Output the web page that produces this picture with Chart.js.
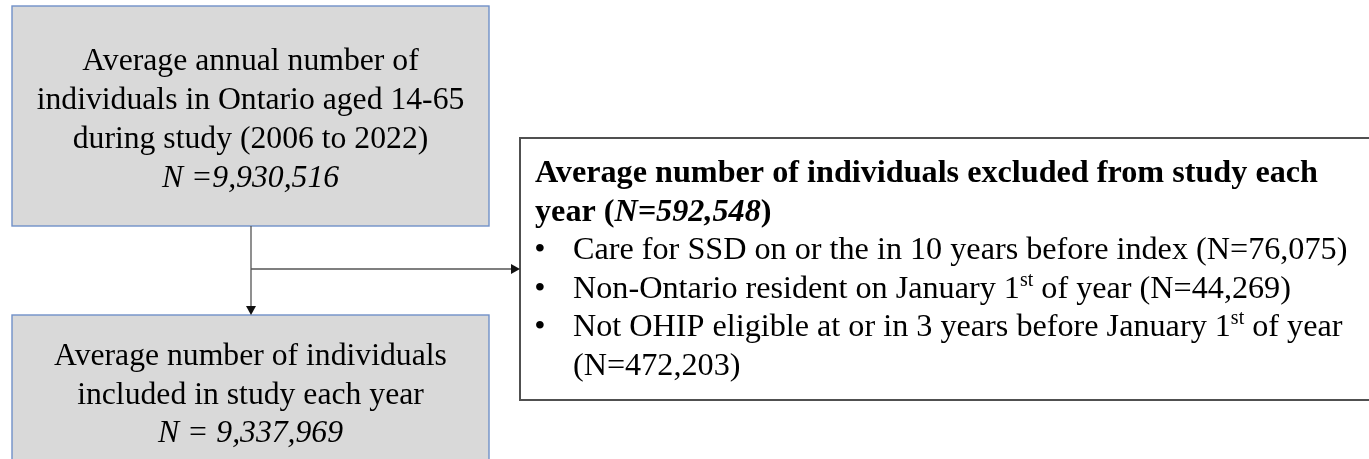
<!DOCTYPE html>
<html>
<head>
<meta charset="utf-8">
<script src="https://cdn.jsdelivr.net/npm/chart.js@4.4.1/dist/chart.umd.min.js"></script>
<style>
  html, body { margin: 0; padding: 0; background: #fff; }
  #wrap { width: 1369px; height: 459px; }
</style>
</head>
<body>
<div id="wrap"><canvas id="flow" width="1369" height="459"></canvas></div>
<script>
  // data
  var studyYears = [2006, 2022];
  var ageRange = [14, 65];
  var totalN = 9930516;
  var includedN = 9337969;
  var excludedN = 592548;
  var exclusionReasons = [
    'Care for SSD on or the in 10 years before index',
    'Non-Ontario resident on January 1^st of year',
    'Not OHIP eligible at or in 3 years before January 1^st of year'
  ];
  var exclusionCounts = [76075, 44269, 472203];

  var fmt = function (n) { return n.toLocaleString('en-US'); };

  // layout (scale units map 1:1 to the canvas)
  var boxes = {
    total:    { x0: 12,  y0: 6,   x1: 489,  y1: 226 },
    included: { x0: 12,  y0: 315, x1: 489,  y1: 475 },
    excluded: { x0: 520, y0: 138, x1: 1380, y1: 400 }
  };
  var trunkX = 251, branchY = 269;

  var FONT = "'Liberation Serif', 'Times New Roman', serif";
  var SIZE = 31.7;
  var LINE = 38.5;

  // rich text helpers
  function setFont(ctx, seg, size) {
    var sz = seg.sup ? size * 0.62 : size;
    ctx.font = (seg.i ? 'italic ' : '') + (seg.b ? 'bold ' : '') + sz + 'px ' + FONT;
  }
  function lineWidth(ctx, segs, size) {
    var w = 0;
    segs.forEach(function (s) { setFont(ctx, s, size); w += ctx.measureText(s.t).width; });
    return w;
  }
  function drawLine(ctx, segs, x, y, size) {
    var cx = x;
    segs.forEach(function (s) {
      setFont(ctx, s, size);
      ctx.fillText(s.t, cx, s.sup ? y - size * 0.36 : y);
      cx += ctx.measureText(s.t).width;
    });
  }
  function parseSup(str) {
    var out = [];
    str.split(/\^(\w+)/).forEach(function (p, k) {
      if (!p) return;
      out.push(k % 2 ? { t: p, sup: true } : { t: p });
    });
    return out;
  }

  var box1Lines = [
    [{ t: 'Average annual number of' }],
    [{ t: 'individuals in Ontario aged ' + ageRange[0] + '-' + ageRange[1] }],
    [{ t: 'during study (' + studyYears[0] + ' to ' + studyYears[1] + ')' }],
    [{ t: 'N =' + fmt(totalN), i: true }]
  ];
  var box2Lines = [
    [{ t: 'Average number of individuals' }],
    [{ t: 'included in study each year' }],
    [{ t: 'N = ' + fmt(includedN), i: true }]
  ];
  var headLines = [
    [{ t: 'Average number of individuals excluded from study each', b: true }],
    [{ t: 'year (', b: true }, { t: 'N=' + fmt(excludedN), b: true, i: true }, { t: ')', b: true }]
  ];

  var flowPlugin = {
    id: 'flow',
    beforeDraw: function (chart) {
      var c = chart.ctx;
      c.save();
      c.fillStyle = '#ffffff';
      c.fillRect(0, 0, chart.width, chart.height);
      c.restore();
    },
    afterDraw: function (chart) {
      var ctx = chart.ctx;
      var xs = chart.scales.x, ys = chart.scales.y;
      var px = function (v) { return xs.getPixelForValue(v); };
      var py = function (v) { return ys.getPixelForValue(v); };

      function rect(b, fill, stroke, lw) {
        var x = px(b.x0), y = py(b.y0), w = px(b.x1) - x, h = py(b.y1) - y;
        ctx.fillStyle = fill;
        ctx.fillRect(x, y, w, h);
        ctx.strokeStyle = stroke;
        ctx.lineWidth = lw;
        ctx.strokeRect(x, y, w, h);
      }

      ctx.save();
      rect(boxes.total, '#d9d9d9', '#7090c8', 1.4);
      rect(boxes.included, '#d9d9d9', '#7090c8', 1.4);
      rect(boxes.excluded, '#ffffff', '#505050', 2);

      // connectors
      ctx.strokeStyle = '#555555';
      ctx.lineWidth = 1.3;
      ctx.beginPath();
      ctx.moveTo(px(trunkX), py(boxes.total.y1));
      ctx.lineTo(px(trunkX), py(boxes.included.y0) - 6);
      ctx.moveTo(px(trunkX), py(branchY));
      ctx.lineTo(px(boxes.excluded.x0) - 6, py(branchY));
      ctx.stroke();
      ctx.fillStyle = '#111111';
      ctx.beginPath();
      var tx = px(trunkX), ty = py(boxes.included.y0);
      ctx.moveTo(tx, ty); ctx.lineTo(tx - 5, ty - 9); ctx.lineTo(tx + 5, ty - 9); ctx.closePath();
      ctx.fill();
      ctx.beginPath();
      var rx = px(boxes.excluded.x0), ry = py(branchY);
      ctx.moveTo(rx, ry); ctx.lineTo(rx - 9, ry - 5); ctx.lineTo(rx - 9, ry + 5); ctx.closePath();
      ctx.fill();

      ctx.fillStyle = '#000000';
      ctx.textBaseline = 'alphabetic';
      ctx.textAlign = 'left';

      // box 1 and box 2, centred
      var c1 = px((boxes.total.x0 + boxes.total.x1) / 2);
      box1Lines.forEach(function (segs, k) {
        drawLine(ctx, segs, c1 - lineWidth(ctx, segs, SIZE) / 2, py(70 + k * 39), SIZE);
      });
      var c2 = px((boxes.included.x0 + boxes.included.x1) / 2);
      box2Lines.forEach(function (segs, k) {
        drawLine(ctx, segs, c2 - lineWidth(ctx, segs, SIZE) / 2, py(365 + k * 38.5), SIZE);
      });

      // box 3
      var S3 = 32.2;
      var y = 182;
      headLines.forEach(function (segs) {
        drawLine(ctx, segs, px(535), py(y), S3);
        y += LINE;
      });
      var maxW = 800;
      exclusionReasons.forEach(function (r, k) {
        var segs = parseSup(r);
        var count = { t: '(N=' + fmt(exclusionCounts[k]) + ')' };
        var full = segs.concat([{ t: ' ' }, count]);
        ctx.save();
        ctx.font = S3 + 'px ' + FONT;
        ctx.textAlign = 'center';
        ctx.fillText('\u2022', px(540), py(y));
        ctx.restore();
        if (lineWidth(ctx, full, S3) <= maxW) {
          drawLine(ctx, full, px(573), py(y), S3);
          y += LINE;
        } else {
          drawLine(ctx, segs, px(573), py(y), S3);
          y += LINE;
          drawLine(ctx, [count], px(573), py(y), S3);
          y += LINE;
        }
      });
      ctx.restore();
    }
  };

  var config = {
    type: 'scatter',
    data: { datasets: [{ data: [], pointRadius: 0 }] },
    options: {
      responsive: false,
      animation: false,
      devicePixelRatio: 1,
      layout: { padding: 0 },
      plugins: { legend: { display: false }, tooltip: { enabled: false } },
      scales: {
        x: { type: 'linear', min: 0, max: 1369, display: false },
        y: { type: 'linear', min: 0, max: 459, reverse: true, display: false }
      }
    },
    plugins: [flowPlugin]
  };

  var flowChart = new Chart(document.getElementById('flow'), config);
</script>
</body>
</html>
